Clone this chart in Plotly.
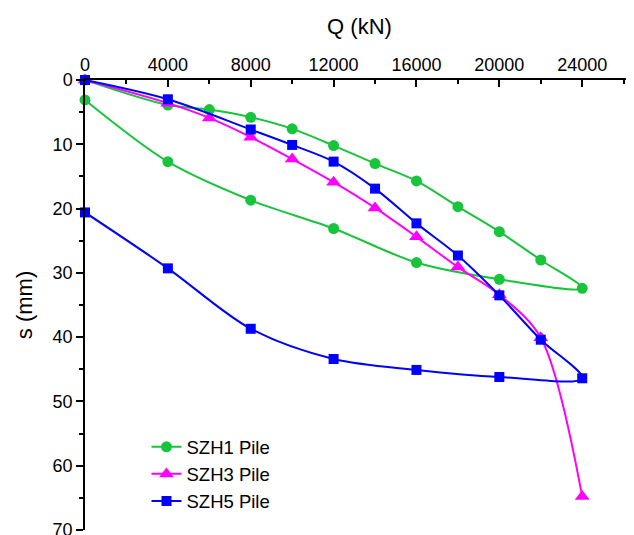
import plotly.graph_objects as go

# Load Q (kN) and settlement s (mm): loading then unloading branches
szh1_q = [0, 4000, 6000, 8000, 10000, 12000, 14000, 16000, 18000, 20000, 22000, 24000,
          20000, 16000, 12000, 8000, 4000, 0]
szh1_s = [0, 3.9, 4.6, 5.8, 7.6, 10.2, 13.0, 15.7, 19.7, 23.6, 28.0, 32.4,
          31.0, 28.4, 23.1, 18.7, 12.7, 3.1]

szh3_q = [0, 4000, 6000, 8000, 10000, 12000, 14000, 16000, 18000, 20000, 22000, 24000]
szh3_s = [0, 3.6, 5.9, 8.9, 12.3, 15.9, 19.9, 24.4, 29.1, 33.4, 40.1, 64.8]

szh5_q = [0, 4000, 8000, 10000, 12000, 14000, 16000, 18000, 20000, 22000, 24000,
          20000, 16000, 12000, 8000, 4000, 0]
szh5_s = [0, 3.0, 7.7, 10.1, 12.7, 16.9, 22.3, 27.3, 33.5, 40.4, 46.4,
          46.2, 45.1, 43.4, 38.7, 29.3, 20.6]

names = ["SZH1 Pile", "SZH3 Pile", "SZH5 Pile"]
colors = ["#17C43C", "#FF00FF", "#0000FF"]
symbols = ["circle", "triangle-up", "square"]
sizes = [11, 13, 10]

fig = go.Figure()
for q, s, n, c, sym, sz in zip([szh1_q, szh3_q, szh5_q], [szh1_s, szh3_s, szh5_s],
                                names, colors, symbols, sizes):
    fig.add_trace(go.Scatter(
        x=q, y=s, name=n, mode="lines+markers",
        line=dict(color=c, width=2, shape="spline", smoothing=0.9),
        marker=dict(color=c, symbol=sym, size=sz),
        cliponaxis=False,
    ))

font = "Liberation Sans, Arial, sans-serif"
fig.update_layout(
    width=626, height=527,
    margin=dict(l=77, r=0, t=72, b=5, autoexpand=False),
    plot_bgcolor="white", paper_bgcolor="white",
    font=dict(family=font, size=18, color="black"),
    showlegend=True,
    legend=dict(x=0.112, y=0.226, xanchor="left", yanchor="top",
                bgcolor="rgba(0,0,0,0)", borderwidth=0,
                font=dict(size=18.5, family=font), tracegroupgap=0),
    xaxis=dict(
        side="top", range=[0, 26500], tickmode="linear", tick0=0, dtick=4000,
        tickformat="d", automargin=False, ticklabeloverflow="allow",
        showline=True, linecolor="black", linewidth=1.5,
        ticks="inside", ticklen=7, tickwidth=1.5, tickcolor="black",
        minor=dict(ticks="inside", ticklen=4, tickwidth=1.5, tickcolor="black", dtick=2000),
        showgrid=False, zeroline=False,
        title=dict(text="Q (kN)", font=dict(size=22), standoff=14),
    ),
    yaxis=dict(
        range=[70, 0], tickmode="linear", tick0=0, dtick=10,
        tickformat="d", automargin=False, ticklabeloverflow="allow",
        showline=True, linecolor="black", linewidth=1.5,
        ticks="outside", ticklen=7, tickwidth=1.5, tickcolor="black",
        minor=dict(ticks="outside", ticklen=4, tickwidth=1.5, tickcolor="black", dtick=5),
        showgrid=False, zeroline=False,
        title=dict(text="s (mm)", font=dict(size=22), standoff=14),
    ),
)

fig.write_html("out.html")
